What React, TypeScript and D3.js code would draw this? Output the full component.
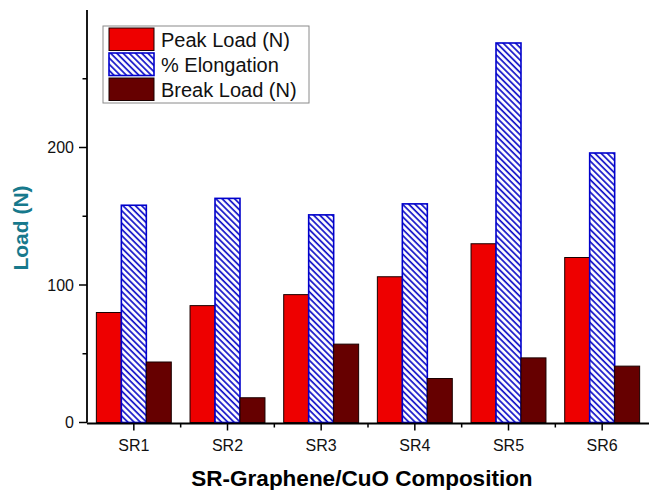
import React, { useEffect, useRef } from 'react';
import * as d3 from 'd3';

const categories = ['SR1', 'SR2', 'SR3', 'SR4', 'SR5', 'SR6'];
const peakLoad = [80, 85, 93, 106, 130, 120];
const elongation = [158, 163, 151, 159, 276, 196];
const breakLoad = [44, 18, 57, 32, 47, 41];
const yMajor = [0, 100, 200];
const yMinor = [50, 150, 250];
const seriesNames = ['Peak Load (N)', '% Elongation', 'Break Load (N)'];

const W = 649;
const H = 490;
const FONT = 'Liberation Sans, Arial, Helvetica, sans-serif';

const App = () => {
  const svgRef = useRef<SVGSVGElement>(null);

  useEffect(() => {
    const svg = d3.select(svgRef.current);
    svg.selectAll('*').remove();

    const left = 87, right = 649, top = 10, bottom = 422.5;

    const x = d3.scaleBand<string>()
      .domain(categories)
      .range([left, right])
      .paddingInner(0.2)
      .paddingOuter(0.1);

    const keys = ['peak', 'elong', 'brk'];
    const x1 = d3.scaleBand<string>().domain(keys).range([0, x.bandwidth()]);

    const y = d3.scaleLinear().domain([0, 300]).range([bottom, top]);

    // hatch pattern
    const defs = svg.append('defs');
    const pat = defs.append('pattern')
      .attr('id', 'hatch')
      .attr('patternUnits', 'userSpaceOnUse')
      .attr('width', 4.4)
      .attr('height', 4.4)
      .attr('patternTransform', 'rotate(-45)');
    pat.append('rect').attr('width', 4.4).attr('height', 4.4).attr('fill', 'white');
    pat.append('line')
      .attr('x1', 1).attr('y1', 0).attr('x2', 1).attr('y2', 4.4)
      .attr('stroke', '#1010c8').attr('stroke-width', 1.7);

    const rows = categories.map((c, i) => ({
      cat: c,
      vals: [
        { key: 'peak', v: peakLoad[i] },
        { key: 'elong', v: elongation[i] },
        { key: 'brk', v: breakLoad[i] },
      ],
    }));

    const fill = (k: string) => (k === 'peak' ? '#ee0000' : k === 'elong' ? 'url(#hatch)' : '#660000');
    const stroke = (k: string) => (k === 'elong' ? '#0000cc' : '#1a0000');

    // bars
    svg.append('g')
      .selectAll('g')
      .data(rows)
      .enter()
      .append('g')
      .attr('transform', d => `translate(${x(d.cat)},0)`)
      .selectAll('rect')
      .data(d => d.vals)
      .enter()
      .append('rect')
      .attr('x', d => x1(d.key)!)
      .attr('y', d => y(d.v))
      .attr('width', x1.bandwidth())
      .attr('height', d => y(0) - y(d.v))
      .attr('fill', d => fill(d.key))
      .attr('stroke', d => stroke(d.key))
      .attr('stroke-width', d => (d.key === 'elong' ? 1.6 : 1));

    // y axis
    svg.append('line')
      .attr('x1', left).attr('x2', left)
      .attr('y1', y(300)).attr('y2', bottom)
      .attr('stroke', 'black').attr('stroke-width', 1.8);

    svg.selectAll('line.ymaj')
      .data(yMajor)
      .enter()
      .append('line')
      .attr('x1', left - 8).attr('x2', left)
      .attr('y1', d => y(d)).attr('y2', d => y(d))
      .attr('stroke', 'black').attr('stroke-width', 1.5);

    svg.selectAll('line.ymin')
      .data(yMinor)
      .enter()
      .append('line')
      .attr('x1', left - 4.5).attr('x2', left)
      .attr('y1', d => y(d)).attr('y2', d => y(d))
      .attr('stroke', 'black').attr('stroke-width', 1.5);

    svg.selectAll('text.ylab')
      .data(yMajor)
      .enter()
      .append('text')
      .attr('x', left - 13)
      .attr('y', d => y(d) + 5.5)
      .attr('text-anchor', 'end')
      .attr('font-family', FONT)
      .attr('font-size', '16px')
      .attr('fill', '#111')
      .text(d => d);

    // x axis
    svg.append('line')
      .attr('x1', left).attr('x2', right)
      .attr('y1', bottom + 1).attr('y2', bottom + 1)
      .attr('stroke', 'black').attr('stroke-width', 1.8);

    svg.selectAll('line.xmaj')
      .data(categories)
      .enter()
      .append('line')
      .attr('x1', d => x(d)! + x.bandwidth() / 2)
      .attr('x2', d => x(d)! + x.bandwidth() / 2)
      .attr('y1', bottom + 1).attr('y2', bottom + 8)
      .attr('stroke', 'black').attr('stroke-width', 1.5);

    const bounds = categories.slice(1).map((c, i) => (x(categories[i])! + x.bandwidth() + x(c)!) / 2);
    svg.selectAll('line.xmin')
      .data(bounds)
      .enter()
      .append('line')
      .attr('x1', d => d).attr('x2', d => d)
      .attr('y1', bottom + 1).attr('y2', bottom + 5)
      .attr('stroke', 'black').attr('stroke-width', 1.5);

    svg.selectAll('text.xlab')
      .data(categories)
      .enter()
      .append('text')
      .attr('x', d => x(d)! + x.bandwidth() / 2)
      .attr('y', 451)
      .attr('text-anchor', 'middle')
      .attr('font-family', FONT)
      .attr('font-size', '16px')
      .attr('fill', '#111')
      .text(d => d);

    // axis titles
    svg.append('text')
      .attr('x', 362)
      .attr('y', 486)
      .attr('text-anchor', 'middle')
      .attr('font-family', FONT)
      .attr('font-weight', 'bold')
      .attr('font-size', '22.5px')
      .attr('fill', '#000')
      .text('SR-Graphene/CuO Composition');

    svg.append('text')
      .attr('transform', 'translate(28,228) rotate(-90)')
      .attr('text-anchor', 'middle')
      .attr('font-family', FONT)
      .attr('font-weight', 'bold')
      .attr('font-size', '21px')
      .attr('fill', '#17798c')
      .text('Load (N)');

    // legend
    const lg = svg.append('g');
    lg.append('rect')
      .attr('x', 103).attr('y', 26)
      .attr('width', 206).attr('height', 77)
      .attr('fill', 'white')
      .attr('stroke', '#8a8a8a').attr('stroke-width', 1);

    const items = lg.selectAll('g')
      .data(keys)
      .enter()
      .append('g')
      .attr('transform', (d, i) => `translate(109,${28 + i * 25})`);

    items.append('rect')
      .attr('width', 45).attr('height', 22.5)
      .attr('fill', d => fill(d))
      .attr('stroke', d => stroke(d))
      .attr('stroke-width', d => (d === 'elong' ? 1.6 : 1));

    items.append('text')
      .attr('x', 52)
      .attr('y', 18.5)
      .attr('font-family', FONT)
      .attr('font-size', '20px')
      .attr('fill', '#111')
      .text((d, i) => seriesNames[i]);
  }, []);

  return (
    <svg
      ref={svgRef}
      width={W}
      height={H}
      style={{ position: 'absolute', left: 0, top: 0, background: 'white' }}
    ></svg>
  );
};

export default App;
